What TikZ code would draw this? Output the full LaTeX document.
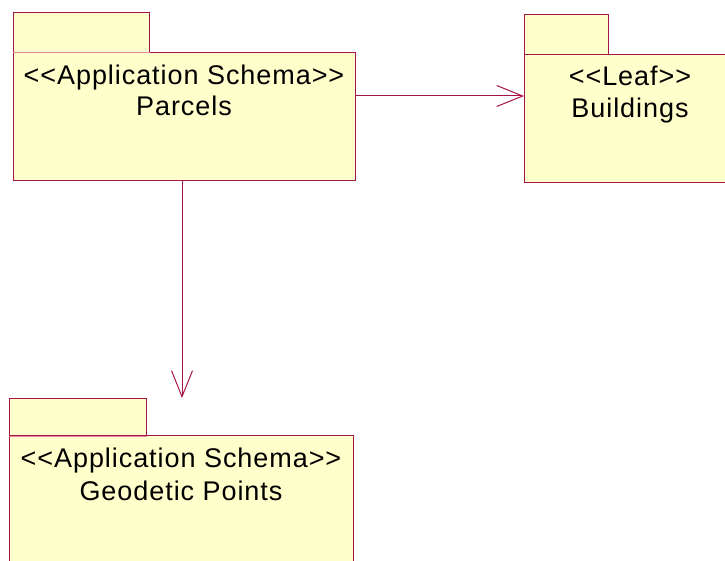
\documentclass[tikz,border=0pt]{standalone}
\usepackage{fontspec}
\setmainfont{Liberation Sans}[LetterSpace=3.5]
\usetikzlibrary{arrows.meta}
\definecolor{pkgfill}{RGB}{255,255,204}
\definecolor{pkgline}{RGB}{165,20,70}
\definecolor{tabline}{RGB}{225,140,160}
\newcommand{\lt}{{<}{<}}
\newcommand{\gt}{{>}{>}}
\tikzset{
  pkgbody/.style={draw=pkgline, fill=pkgfill, line width=1pt, rectangle, inner sep=0pt, anchor=north west},
  pkgtab/.style={draw=pkgline, fill=pkgfill, line width=1pt, rectangle, inner sep=0pt, anchor=north west},
  lbl/.style={anchor=base, inner sep=0pt, font=\fontsize{27}{31}\selectfont},
  dep/.style={draw=pkgline, line width=1pt, -{Straight Barb[length=26pt,width=21pt,line width=1pt]}}
}
\begin{document}
\begin{tikzpicture}[x=1pt,y=-1pt]
\useasboundingbox (0,0) rectangle (725,561);
\clip (0,0) rectangle (725,561);
% Parcels
\node[pkgtab, minimum width=136pt, minimum height=40pt] (parcelstab) at (13,12) {};
\node[pkgbody, minimum width=342pt, minimum height=128pt] (parcels) at (13,52) {};
\draw[tabline, line width=1pt] (parcelstab.south west) -- (parcelstab.south east);
\node[lbl] (parcelsst) at (184,85) {\lt Application Schema\gt};
\node[lbl] (parcelsnm) at (184,116) {Parcels};
% Buildings
\node[pkgtab, minimum width=84pt, minimum height=40pt] (buildingstab) at (524,14) {};
\node[pkgbody, minimum width=230pt, minimum height=128pt] (buildings) at (524,54) {};
\node[lbl] (buildingsst) at (630,86) {\lt Leaf\gt};
\node[lbl] (buildingsnm) at (630,118) {Buildings};
% Geodetic Points
\node[pkgtab, minimum width=137pt, minimum height=37pt] (geotab) at (9,398) {};
\node[pkgbody, minimum width=344pt, minimum height=160pt] (geo) at (9,435) {};
\draw[tabline, line width=1pt] (geotab.south west) -- (geotab.south east);
\node[lbl] (geost) at (181,467) {\lt Application Schema\gt};
\node[lbl] (geonm) at (181,500) {Geodetic Points};
% dependencies
\coordinate (hy) at (0,96);
\coordinate (vx) at (182,0);
\draw[dep] (parcels.east |- hy) -- (buildings.west |- hy);
\draw[dep] (parcels.south -| vx) -- (geotab.north -| vx);
\end{tikzpicture}
\end{document}
